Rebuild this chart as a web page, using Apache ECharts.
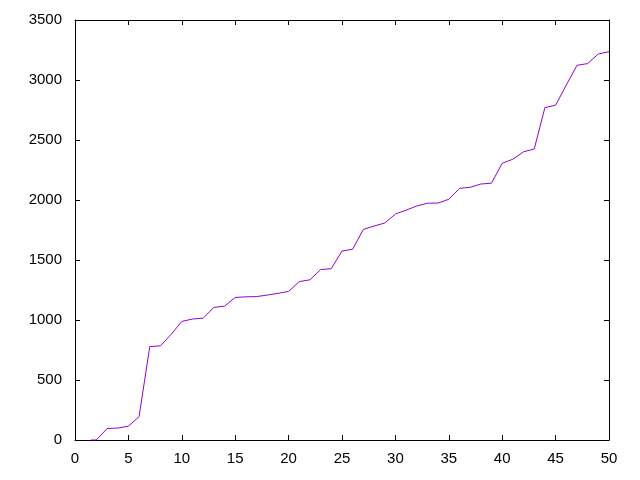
<!DOCTYPE html>
<html>
<head>
<meta charset="utf-8">
<script src="https://cdn.jsdelivr.net/npm/echarts@6/dist/echarts.min.js"></script>
<style>
html,body{margin:0;padding:0;background:#fff;}
#chart{width:640px;height:480px;}
</style>
</head>
<body>
<div id="chart"></div>
<script>
var xValues = [1.5, 2, 3, 4, 5, 6, 7, 8, 9, 10, 11, 12, 13, 14, 15, 16, 17, 18, 19, 20, 21, 22, 23, 24, 25, 26, 27, 28, 29, 30, 31, 32, 33, 34, 35, 36, 37, 38, 39, 40, 41, 42, 43, 44, 45, 46, 47, 48, 49, 50];
var yValues = [0, 0, 95, 100, 115, 195, 778, 785, 880, 988, 1008, 1015, 1105, 1115, 1188, 1193, 1195, 1208, 1222, 1238, 1320, 1335, 1420, 1428, 1575, 1590, 1755, 1783, 1808, 1883, 1915, 1950, 1973, 1975, 2006, 2097, 2106, 2133, 2140, 2306, 2340, 2402, 2425, 2770, 2790, 2958, 3122, 3137, 3217, 3236];
var xTicks = {min: 0, max: 50, interval: 5};
var yTicks = {min: 0, max: 3500, interval: 500};

var points = xValues.map(function (x, i) { return [x, yValues[i]]; });
var font = 'Liberation Sans, Arial, sans-serif';
var axisLine = {show: true, onZero: false, lineStyle: {color: '#000', width: 1}};
var tick = {show: true, inside: true, length: 5, lineStyle: {color: '#000', width: 1}};
var plain = function (v) { return String(v); };

var chart = echarts.init(document.getElementById('chart'), null, {renderer: 'canvas'});
chart.setOption({
  animation: false,
  backgroundColor: '#fff',
  grid: {left: 75, right: 31, top: 20, bottom: 40, containLabel: false},
  xAxis: [
    {type: 'value', position: 'bottom', min: xTicks.min, max: xTicks.max, interval: xTicks.interval,
     axisLine: axisLine, axisTick: tick, splitLine: {show: false},
     axisLabel: {color: '#000', fontFamily: font, fontSize: 15, margin: 11, formatter: plain}},
    {type: 'value', position: 'top', min: xTicks.min, max: xTicks.max, interval: xTicks.interval,
     axisLine: axisLine, axisTick: tick, splitLine: {show: false}, axisLabel: {show: false}}
  ],
  yAxis: [
    {type: 'value', position: 'left', min: yTicks.min, max: yTicks.max, interval: yTicks.interval,
     axisLine: axisLine, axisTick: tick, splitLine: {show: false},
     axisLabel: {color: '#000', fontFamily: font, fontSize: 15, margin: 13, formatter: plain}},
    {type: 'value', position: 'right', min: yTicks.min, max: yTicks.max, interval: yTicks.interval,
     axisLine: axisLine, axisTick: tick, splitLine: {show: false}, axisLabel: {show: false}}
  ],
  series: [{
    type: 'line',
    data: points,
    xAxisIndex: 0,
    yAxisIndex: 0,
    showSymbol: false,
    symbol: 'none',
    lineStyle: {color: '#9400D3', width: 1},
    clip: true
  }]
});
</script>
</body>
</html>
